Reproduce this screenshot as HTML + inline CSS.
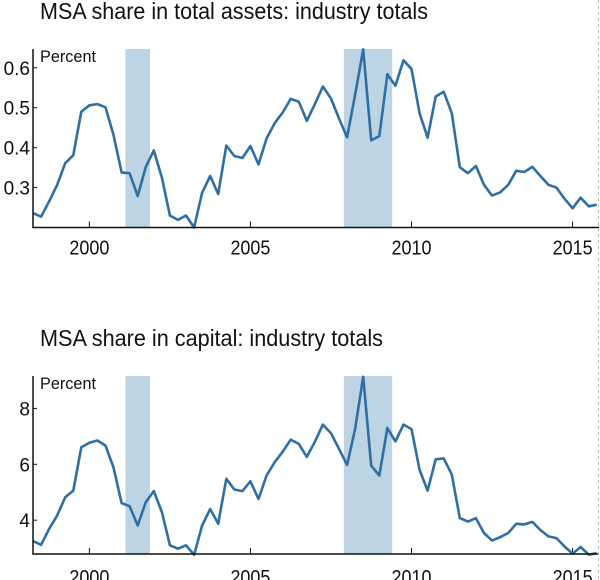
<!DOCTYPE html>
<html><head><meta charset="utf-8"><style>
html,body{margin:0;padding:0;background:#fff;}
svg{display:block;font-family:"Liberation Sans",sans-serif;}
</style></head><body>
<svg id="c" width="600" height="580"></svg>
<script>
const quarters = []; // generated from start/count below
const startYear = 1998.25, nQuarters = 71;
const assetsValues = [0.236,0.227,0.265,0.307,0.361,0.381,0.49,0.506,0.509,0.501,0.432,0.338,0.336,0.279,0.351,0.393,0.325,0.23,0.219,0.23,0.2,0.287,0.329,0.284,0.405,0.379,0.374,0.404,0.358,0.423,0.461,0.488,0.522,0.515,0.467,0.509,0.553,0.523,0.473,0.426,0.532,0.646,0.418,0.429,0.584,0.555,0.619,0.597,0.486,0.425,0.528,0.54,0.486,0.351,0.336,0.354,0.307,0.28,0.288,0.307,0.342,0.339,0.352,0.329,0.307,0.3,0.272,0.248,0.275,0.253,0.257];
const capitalValues = [3.25,3.12,3.69,4.17,4.82,5.06,6.61,6.77,6.85,6.67,5.89,4.61,4.5,3.81,4.64,5.04,4.29,3.1,2.98,3.1,2.76,3.81,4.4,3.87,5.48,5.1,5.04,5.39,4.76,5.6,6.07,6.45,6.88,6.73,6.27,6.81,7.42,7.11,6.55,5.98,7.26,9.13,5.95,5.6,7.3,6.82,7.42,7.26,5.8,5.06,6.18,6.21,5.63,4.08,3.95,4.07,3.54,3.27,3.39,3.54,3.87,3.85,3.94,3.65,3.42,3.36,3.06,2.8,3.04,2.77,2.82];
const yearTicks = [2000,2005,2010,2015];
const assetsTicks = [0.3,0.4,0.5,0.6];
const assetsTickLabels = ["0.3","0.4","0.5","0.6"];
const capitalTicks = [4,6,8];
const capitalTickLabels = ["4","6","8"];
const recessionStarts = [2001.12,2007.9];
const recessionEnds = [2001.88,2009.4];

const NS="http://www.w3.org/2000/svg";
const svg=document.getElementById('c');
function el(t,a,p){const e=document.createElementNS(NS,t);for(const k in a)e.setAttribute(k,a[k]);(p||svg).appendChild(e);return e;}
for(let i=0;i<nQuarters;i++)quarters.push(startYear+i*0.25);
const xMin=1998.25,xMax=2015.82,left=33,right=599;
const X=v=>left+(v-xMin)/(xMax-xMin)*(right-left);

function panel(cfg){
  const g=el('g',{});
  
  
  const Y=v=>cfg.bottom-(v-cfg.yMin)/(cfg.yMax-cfg.yMin)*(cfg.bottom-cfg.top);
  const t=el('text',{x:40,y:cfg.titleY,'font-size':23,textLength:cfg.titleLen,lengthAdjust:'spacingAndGlyphs',fill:'#111'},g);
  t.textContent=cfg.title;
  
  
  for(let i=0;i<recessionStarts.length;i++){
    const r=el('rect',{x:X(recessionStarts[i]),y:cfg.top,width:X(recessionEnds[i])-X(recessionStarts[i]),height:cfg.bottom-cfg.top,fill:'#bdd4e4'},g);
    
    
  }
  const pu=el('text',{x:40,y:cfg.top+13,'font-size':17,textLength:56,lengthAdjust:'spacingAndGlyphs',fill:'#111'},g);
  pu.textContent='Percent';
  
  
  cfg.ticks.forEach((v,i)=>{
    el('line',{x1:left,x2:left+4,y1:Y(v),y2:Y(v),stroke:'#111','stroke-width':1},g);
    const tl=el('text',{x:30,y:Y(v)+7,'font-size':19,'text-anchor':'end',fill:'#111'},g);
    tl.textContent=cfg.labels[i];
    
    
  });
  yearTicks.forEach(y=>{
    el('line',{x1:X(y),x2:X(y),y1:cfg.bottom,y2:cfg.bottom-6,stroke:'#111','stroke-width':1},g);
    const tl=el('text',{x:X(y),y:cfg.bottom+cfg.yearDy,'font-size':20,'text-anchor':'middle',textLength:40,lengthAdjust:'spacingAndGlyphs',fill:'#111'},g);
    tl.textContent=String(y);
    
    
  });
  const pts=cfg.values.map((v,i)=>X(quarters[i]).toFixed(1)+','+Y(v).toFixed(1)).join(' ');
  const pl=el('polyline',{points:pts,fill:'none',stroke:'#2f6fa3','stroke-width':2.6,'stroke-linejoin':'round'},g);
  
  
  const ax=el('path',{d:`M${left},${cfg.top} V${cfg.bottom} H${right}`,fill:'none',stroke:'#111','stroke-width':1.5},g);
  
  
}
panel({name:'assets-panel',title:'MSA share in total assets: industry totals',titleY:19,titleLen:388,top:49,bottom:227.5,yMin:0.2,yMax:0.647,ticks:assetsTicks,labels:assetsTickLabels,values:assetsValues,yearDy:27});
panel({name:'capital-panel',title:'MSA share in capital: industry totals',titleY:346,titleLen:343,top:376,bottom:554,yMin:2.79,yMax:9.16,ticks:capitalTicks,labels:capitalTickLabels,values:capitalValues,yearDy:30});
const d=el('line',{x1:598.5,x2:598.5,y1:0,y2:580,stroke:'#bbb','stroke-width':1,'stroke-dasharray':'3,3'});


</script>
</body></html>
